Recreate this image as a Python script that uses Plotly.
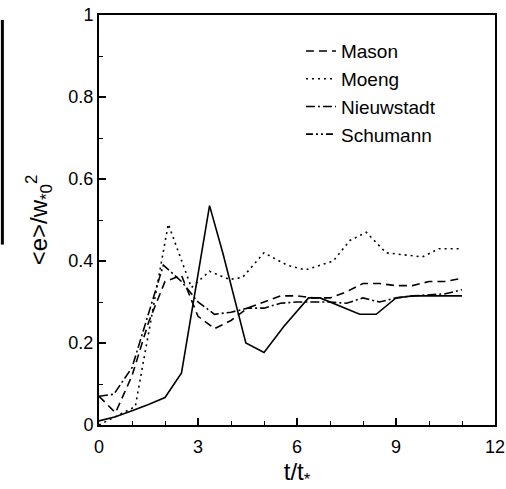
import plotly.graph_objects as go

# ---- data ----
mason_t = [0, 0.5, 1.0, 1.5, 2.0, 2.5, 3.0, 3.5, 4.0, 4.5, 5.0, 5.5, 6.0, 6.5, 7.0, 7.5, 8.0, 8.5, 9.0, 9.5, 10.0, 10.5, 11.0]
mason_v = [0.07, 0.03, 0.12, 0.25, 0.35, 0.365, 0.265, 0.235, 0.255, 0.285, 0.30, 0.315, 0.315, 0.31, 0.31, 0.325, 0.345, 0.345, 0.34, 0.34, 0.35, 0.35, 0.358]

moeng_t = [0, 0.5, 1.1, 2.1, 2.8, 3.35, 3.95, 4.35, 5.0, 5.7, 6.25, 7.1, 7.6, 8.1, 8.7, 9.8, 10.3, 11.0]
moeng_v = [0.0, 0.02, 0.045, 0.49, 0.335, 0.375, 0.355, 0.36, 0.42, 0.39, 0.378, 0.40, 0.45, 0.47, 0.42, 0.41, 0.43, 0.43]

nieuw_t = [0, 0.45, 1.0, 1.5, 1.95, 2.5, 3.0, 3.5, 4.0, 4.5, 5.0, 5.5, 6.0, 6.5, 7.0, 7.5, 8.0, 8.5, 9.0, 9.5, 10.0, 10.5, 11.0]
nieuw_v = [0.07, 0.075, 0.14, 0.27, 0.39, 0.35, 0.30, 0.27, 0.275, 0.285, 0.285, 0.297, 0.30, 0.30, 0.30, 0.297, 0.31, 0.30, 0.31, 0.315, 0.317, 0.32, 0.33]

schu_t = [0, 0.5, 1.0, 1.5, 2.0, 2.5, 3.35, 3.75, 4.45, 5.0, 5.6, 6.35, 6.7, 7.3, 7.9, 8.4, 9.0, 9.5, 10.0, 11.0]
schu_v = [0.01, 0.02, 0.035, 0.05, 0.067, 0.127, 0.535, 0.42, 0.20, 0.177, 0.24, 0.31, 0.31, 0.29, 0.27, 0.27, 0.31, 0.315, 0.315, 0.315]

names = ["Mason", "Moeng", "Nieuwstadt", "Schumann"]
x_ticks = [0, 3, 6, 9, 12]
y_ticks = [0, 0.2, 0.4, 0.6, 0.8, 1]
y_labels = ["0", "0.2", "0.4", "0.6", "0.8", "1"]

FONT = "Liberation Sans, Arial, sans-serif"
lw = 1.6

fig = go.Figure()
fig.add_trace(go.Scatter(x=mason_t, y=mason_v, mode="lines", name=names[0],
                         line=dict(color="black", width=lw, dash="8px,5px")))
fig.add_trace(go.Scatter(x=moeng_t, y=moeng_v, mode="lines", name=names[1],
                         line=dict(color="black", width=lw, dash="2px,4px")))
fig.add_trace(go.Scatter(x=nieuw_t, y=nieuw_v, mode="lines", name=names[2],
                         line=dict(color="black", width=lw, dash="9px,3px,2px,3px")))
fig.add_trace(go.Scatter(x=schu_t, y=schu_v, mode="lines", name=names[3], showlegend=False,
                         line=dict(color="black", width=lw)))
# legend sample for Schumann as printed in the reference
fig.add_trace(go.Scatter(x=[None], y=[None], mode="lines", name=names[3],
                         line=dict(color="black", width=lw, dash="7px,3px,2px,3px,2px,3px")))

axis_common = dict(showline=True, linecolor="black", linewidth=2, mirror=True,
                   ticks="inside", tickcolor="black", ticklen=7, tickwidth=1.5,
                   showgrid=False, zeroline=False, automargin=False,
                   ticklabeloverflow="allow",
                   tickfont=dict(family=FONT, size=18, color="black"))

fig.update_xaxes(range=[0, 12], tickvals=x_ticks, ticklabelstandoff=4,
                 minor=dict(dtick=1, ticks="inside", ticklen=4, tickcolor="black", tickwidth=1.2),
                 title=dict(text="t/t<sub>*</sub>", font=dict(family=FONT, size=24, color="black"), standoff=10),
                 **axis_common)
fig.update_yaxes(range=[0, 1], tickvals=y_ticks, ticktext=y_labels,
                 minor=dict(dtick=0.1, ticks="inside", ticklen=4, tickcolor="black", tickwidth=1.2),
                 title=dict(text="&lt;e&gt;/w<sub>*0</sub><sup>2</sup>", font=dict(family=FONT, size=24, color="black"), standoff=14),
                 **axis_common)

fig.add_shape(type="line", xref="paper", yref="paper", x0=-0.244, x1=-0.244, y0=0.44, y1=0.988,
              line=dict(color="black", width=3))

fig.update_layout(
    width=506, height=489,
    margin=dict(l=99, r=11, t=15, b=64),
    paper_bgcolor="white", plot_bgcolor="white",
    showlegend=True,
    legend=dict(x=0.51, y=0.958, xanchor="left", yanchor="top", bgcolor="rgba(0,0,0,0)",
                font=dict(family=FONT, size=19, color="black"), itemwidth=30),
)

fig.write_html("out.html")
